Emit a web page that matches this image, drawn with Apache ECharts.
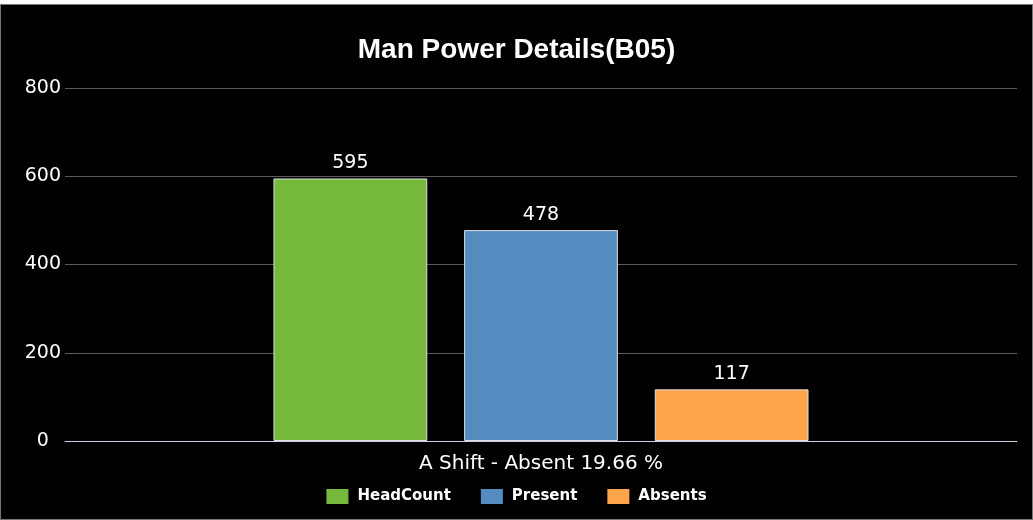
<!DOCTYPE html>
<html>
<head>
<meta charset="utf-8">
<script src="https://cdn.jsdelivr.net/npm/echarts@6/dist/echarts.min.js"></script>
<style>
  html, body { margin: 0; padding: 0; background: #fff; }
  #frame {
    position: absolute; left: 0; top: 4px;
    width: 1031px; height: 514px;
    background: #000; border: 1px solid #777;
  }
  #chart { position: absolute; left: 0; top: 0; width: 1033px; height: 520px; }
</style>
</head>
<body>
<div id="frame"></div>
<div id="chart"></div>
<script>
// chart data
var categories = ["A Shift - Absent 19.66 %"];
var seriesNames = ["HeadCount", "Present", "Absents"];
var headCount = [595];
var present = [478];
var absents = [117];
var seriesColors = ["#76b83c", "#558cc0", "#fea54c"];

var chart = echarts.init(document.getElementById("chart"));

var option = {
  backgroundColor: "transparent",
  animation: false,
  title: {
    text: "Man Power Details(B05)",
    left: "center",
    top: 31,
    textStyle: {
      color: "#fff",
      fontFamily: "Liberation Sans, Arial",
      fontWeight: "bold",
      fontSize: 28
    }
  },
  legend: {
    data: seriesNames,
    bottom: 11,
    left: "center",
    itemWidth: 22,
    itemHeight: 15,
    itemGap: 30,
    icon: "rect",
    itemStyle: { borderWidth: 0 },
    textStyle: {
      color: "#fff",
      fontFamily: "DejaVu Sans",
      fontWeight: "bold",
      fontSize: 15,
      padding: [0, 0, 0, 4]
    }
  },
  grid: { left: 65, right: 16, top: 88, bottom: 79 },
  xAxis: {
    type: "category",
    data: categories,
    axisTick: { show: false },
    axisLine: { lineStyle: { color: "#c8d4e0", width: 1 } },
    axisLabel: {
      color: "#fff",
      fontFamily: "DejaVu Sans",
      fontSize: 20,
      margin: 13
    }
  },
  yAxis: {
    type: "value",
    min: 0,
    max: 800,
    interval: 200,
    axisLine: { show: false },
    axisTick: { show: false },
    splitLine: { lineStyle: { color: "#5a5a5a", width: 1 } },
    axisLabel: {
      color: "#fff",
      fontFamily: "DejaVu Sans",
      fontSize: 19,
      margin: 4,
      // the zero label sits a little further from the axis in the original
      formatter: function (v) { return v === 0 ? "0  " : String(v); }
    }
  },
  series: [headCount, present, absents].map(function (vals, i) {
    return {
      name: seriesNames[i],
      type: "bar",
      data: vals,
      barGap: "24%",
      barCategoryGap: "43.8%",
      itemStyle: {
        color: seriesColors[i],
        borderColor: "#e0e0e0",
        borderWidth: 1
      },
      label: {
        show: true,
        position: "top",
        distance: 6,
        color: "#fff",
        fontFamily: "DejaVu Sans",
        fontSize: 19
      }
    };
  })
};

chart.setOption(option);
</script>
</body>
</html>
